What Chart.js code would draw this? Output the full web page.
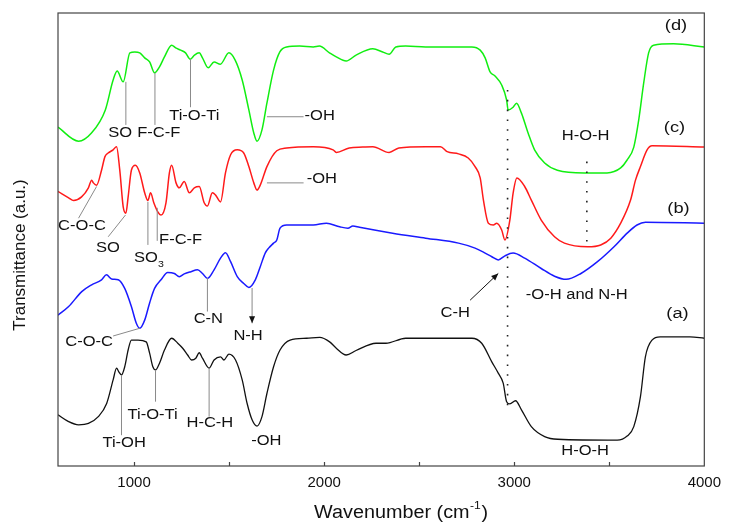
<!DOCTYPE html>
<html><head><meta charset="utf-8">
<script src="https://cdn.jsdelivr.net/npm/chart.js@4/dist/chart.umd.min.js"></script>
<style>html,body{margin:0;padding:0;background:#fff}#wrap{width:729px;height:525px;position:relative}</style>
</head><body><div id="wrap"><canvas id="c" width="729" height="525"></canvas></div>
<script>
// ---- data ----
const tickValues = [1000, 1500, 2000, 2500, 3000, 3500, 4000];
const tickLabels = ['1000', '', '2000', '', '3000', '', '4000'];
const seriesNames = ['(a)', '(b)', '(c)', '(d)'];

// (a) black
const aWavenumber = [600,656,708,760,812,856,890,908,920,934,951,969,986,1021,1064,1082,1099,1113,1134,1160,1198,1230,1256,1282,1303,1325,1343,1360,1395,1421,1455,1473,1499,1534,1569,1595,1621,1647,1673,1699,1734,1768,1821,1908,1977,2029,2064,2116,2168,2273,2325,2429,2621,2777,2829,2882,2916,2942,2960,2977,3007,3038,3090,3160,3229,3542,3594,3629,3664,3690,3725,3768,3925,4000];
const aTransmittance = [11.3,9.8,9.1,9.4,10.9,13.8,19.0,21.6,20.8,20.1,21.9,25.6,27.8,27.8,27.4,24.9,21.9,21.2,22.7,25.6,28.2,27.1,26.0,24.5,23.4,23.8,25.0,23.8,21.6,23.4,24.1,23.4,24.7,23.4,19.0,13.8,10.2,8.8,10.9,16.0,21.9,25.6,27.8,28.2,28.4,27.4,26.0,24.5,25.5,27.1,27.1,28.2,28.2,28.2,27.1,23.0,20.5,18.3,14.2,13.7,14.4,12.4,8.7,6.5,5.9,5.7,6.6,8.7,15.3,24.1,27.8,28.5,28.5,28.2];

// (b) blue
const bWavenumber = [600,656,725,777,829,855,882,917,951,986,1012,1030,1056,1082,1108,1142,1177,1212,1238,1264,1299,1334,1360,1386,1421,1455,1481,1508,1543,1577,1604,1638,1664,1690,1708,1734,1751,1768,1803,1943,2012,2082,2125,2151,2186,2360,2534,2707,2794,2847,2882,2916,2951,2994,3055,3142,3212,3273,3351,3438,3525,3594,3646,3690,4000];
const bTransmittance = [33.3,35.2,38.5,40.0,41.1,42.2,41.3,41.1,39.2,35.2,31.5,30.4,32.2,36.0,39.2,41.1,42.7,42.5,41.8,42.4,42.9,43.3,42.5,41.4,43.3,45.9,47.1,45.1,41.8,40.3,39.4,41.1,44.0,47.0,48.1,49.2,49.9,52.5,53.2,53.2,53.6,52.8,52.5,53.0,52.7,51.4,50.3,49.2,48.1,47.0,46.2,45.5,46.4,47.0,45.9,43.6,41.9,41.2,42.5,45.1,48.4,51.4,53.2,53.8,53.6];

// (c) red
const cWavenumber = [600,656,682,724,760,777,786,803,829,847,864,890,908,925,943,957,969,986,1007,1030,1056,1073,1087,1104,1125,1142,1168,1186,1198,1221,1238,1264,1291,1317,1343,1369,1386,1412,1429,1455,1481,1508,1543,1577,1604,1630,1647,1664,1699,1751,1803,1943,2047,2064,2132,2203,2256,2342,2393,2534,2612,2647,2707,2758,2794,2821,2838,2864,2890,2908,2934,2951,2977,2994,3014,3055,3090,3142,3212,3264,3386,3455,3508,3560,3612,3638,3664,3699,3725,4000];
const cTransmittance = [60.6,59.2,58.6,59.4,61.4,63.1,62.5,62.0,65.3,68.3,69.1,69.8,70.5,65.3,57.2,55.8,59.4,65.3,66.4,64.7,60.3,58.6,60.3,58.1,56.1,55.4,58.1,64.7,66.4,62.5,61.4,62.8,60.3,61.4,61.7,58.1,57.4,60.3,59.8,58.3,64.7,68.7,69.8,69.1,66.1,62.5,60.9,62.0,66.1,69.6,70.2,70.5,69.8,69.2,70.2,70.4,70.5,69.2,70.2,70.5,70.5,69.4,68.9,68.0,66.1,63.6,58.7,53.6,53.2,53.6,52.1,49.9,54.3,60.2,63.6,61.7,58.7,54.3,50.6,49.2,48.4,48.8,50.3,53.6,58.7,63.1,66.1,69.8,70.7,70.4];

// (d) green
const dWavenumber = [600,708,776,849,890,911,943,978,1004,1030,1056,1082,1108,1134,1160,1198,1219,1245,1271,1296,1318,1343,1360,1390,1421,1454,1499,1532,1569,1604,1630,1647,1673,1699,1734,1767,1803,1871,1943,1975,2028,2064,2116,2168,2256,2308,2342,2377,2429,2534,2706,2777,2821,2847,2873,2899,2934,2960,2968,2994,3012,3038,3073,3107,3160,3227,3368,3488,3560,3593,3629,3655,3681,3707,3733,3838,4000];
const dTransmittance = [74.8,71.7,73.5,78.6,85.2,87.2,84.8,91.2,91.4,91.2,90.1,89.2,86.8,88.1,90.3,92.9,92.3,91.8,91.2,89.8,90.7,91.2,90.1,87.9,89.2,88.7,91.2,89.6,85.2,78.6,73.5,71.7,74.2,80.1,87.4,91.4,92.5,92.7,92.5,92.7,91.2,90.3,89.4,90.7,92.1,91.4,90.9,92.5,92.7,92.5,92.5,92.5,91.8,90.1,87.0,86.1,84.1,80.8,78.6,79.2,80.1,77.9,73.5,69.8,66.9,65.3,64.7,64.7,65.8,67.5,70.4,76.4,84.5,91.2,92.9,93.2,92.5];

// ---- annotations (in data units: wavenumber, transmittance) ----
const annotationTexts = [
  {t:'SO', x:927, y:73.5}, {t:'F-C-F', x:1130, y:73.4}, {t:'Ti-O-Ti', x:1317, y:77.3},
  {t:'-OH', x:1897, y:77.3, align:'left'},
  {t:'-OH', x:1908, y:63.3, align:'left'}, {t:'C-O-C', x:726, y:53.0}, {t:'SO', x:863, y:48.1},
  {t:'SO', x:1063, y:45.8, sub:'3'}, {t:'F-C-F', x:1245, y:49.9},
  {t:'C-N', x:1391, y:32.4}, {t:'N-H', x:1600, y:28.7}, {t:'C-O-C', x:764, y:27.4},
  {t:'Ti-O-Ti', x:1098, y:11.3}, {t:'Ti-OH', x:948, y:5.1}, {t:'H-C-H', x:1399, y:9.4}, {t:'-OH', x:1696, y:5.5},
  {t:'H-O-H', x:3376, y:72.8}, {t:'-O-H and N-H', x:3329, y:37.7}, {t:'C-H', x:2690, y:33.7}, {t:'H-O-H', x:3373, y:3.2}
];
const seriesTagPos = [{x:3859, y:33.6}, {x:3864, y:56.7}, {x:3843, y:74.7}, {x:3851, y:97.1}];
const leaderLines = [
  [957,84.8,957,75.3],[1110,86.8,1110,75.3],[1297,89.8,1297,79.2],[1699,77.1,1892,77.1],
  [1699,62.5,1892,62.5],[708,54.7,803,61.7],[864,50.6,955,55.4],[1073,58.3,1073,48.8],[1122,57.0,1122,49.7],
  [1386,41.5,1386,34.1],[890,28.7,1030,30.4],
  [1113,21.2,1113,14.2],[934,20.1,934,6.8],[1395,21.6,1395,10.9]
];
const arrows = [
  {x1:1621, y1:39.3, x2:1621, y2:31.5, line:'#888'},
  {x1:2768, y1:36.6, x2:2916, y2:42.5, line:'#111'}
];
const dottedLines = [[2965,83.0,2965,12.8],[3382,67.2,3382,49.5]];

const FONT = '"Liberation Sans", Arial, Helvetica, sans-serif';

function pts(xs, ys){ return xs.map((x,i)=>({x:x, y:ys[i]})); }

const overlay = {
  id:'overlay',
  afterDatasetsDraw(chart){
    const ctx = chart.ctx, xs = chart.scales.x, ys = chart.scales.y, a = chart.chartArea;
    const X = v=>xs.getPixelForValue(v), Y = v=>ys.getPixelForValue(v);
    ctx.save();
    // frame
    ctx.strokeStyle = '#444'; ctx.lineWidth = 1.2;
    ctx.strokeRect(a.left, a.top, a.right-a.left, a.bottom-a.top);
    // inward tick marks
    ctx.beginPath();
    xs.ticks.forEach(t=>{ const p = Math.round(X(t.value))+0.5; if (p < a.right-1){ ctx.moveTo(p, a.bottom); ctx.lineTo(p, a.bottom-4); }});
    ctx.stroke();
    // leader lines
    ctx.strokeStyle = '#8a8a8a'; ctx.lineWidth = 1;
    leaderLines.forEach(l=>{ ctx.beginPath(); ctx.moveTo(X(l[0]),Y(l[1])); ctx.lineTo(X(l[2]),Y(l[3])); ctx.stroke(); });
    // arrows
    arrows.forEach(ar=>{
      const x1=X(ar.x1), y1=Y(ar.y1), x2=X(ar.x2), y2=Y(ar.y2);
      ctx.strokeStyle = ar.line; ctx.lineWidth = 1;
      ctx.beginPath(); ctx.moveTo(x1,y1); ctx.lineTo(x2,y2); ctx.stroke();
      const ang = Math.atan2(y2-y1, x2-x1), L = 7, W = 3;
      ctx.fillStyle = '#111';
      ctx.beginPath(); ctx.moveTo(x2,y2);
      ctx.lineTo(x2 - L*Math.cos(ang) + W*Math.sin(ang), y2 - L*Math.sin(ang) - W*Math.cos(ang));
      ctx.lineTo(x2 - L*Math.cos(ang) - W*Math.sin(ang), y2 - L*Math.sin(ang) + W*Math.cos(ang));
      ctx.closePath(); ctx.fill();
    });
    // dotted lines
    ctx.strokeStyle = '#222'; ctx.lineWidth = 1.6; ctx.setLineDash([1.6, 8.2]);
    dottedLines.forEach(l=>{ ctx.beginPath(); ctx.moveTo(X(l[0]),Y(l[1])); ctx.lineTo(X(l[2]),Y(l[3])); ctx.stroke(); });
    ctx.setLineDash([]);
    // texts
    const sx = 1.18;
    ctx.fillStyle = '#111'; ctx.textBaseline = 'middle';
    function txt(s, x, y, size, align){
      ctx.save(); ctx.translate(x, y); ctx.scale(sx, 1);
      ctx.font = size + 'px ' + FONT; ctx.textAlign = align || 'center';
      ctx.fillText(s, 0, 0); ctx.restore();
    }
    annotationTexts.forEach(o=>{
      const x = X(o.x), y = Y(o.y);
      txt(o.t, x, y, 14, o.align);
      if (o.sub){
        ctx.font = '14px ' + FONT;
        const w = ctx.measureText(o.t).width * sx;
        txt(o.sub, x + w/2 + 3, y + 6, 9, 'center');
      }
    });
    seriesNames.forEach((n,i)=> txt(n, X(seriesTagPos[i].x), Y(seriesTagPos[i].y), 15.5));
    // axis titles
    // x title with superscript
    ctx.save();
    const sxt = 1.1;
    ctx.font = '18px ' + FONT;
    const p1 = 'Wavenumber (cm', p2 = ')';
    const w1 = ctx.measureText(p1).width, w3 = ctx.measureText(p2).width;
    ctx.font = '11px ' + FONT; const w2 = ctx.measureText('-1').width;
    const total = (w1 + w2 + w3 + 1) * sxt;
    const cx = 401, cy = 513;
    ctx.translate(cx - total/2, cy); ctx.scale(sxt, 1);
    ctx.textAlign = 'left'; ctx.textBaseline = 'middle'; ctx.fillStyle = '#111';
    ctx.font = '18px ' + FONT; ctx.fillText(p1, 0, 0);
    ctx.font = '11px ' + FONT; ctx.fillText('-1', w1 + 0.5, -7);
    ctx.font = '18px ' + FONT; ctx.fillText(p2, w1 + w2 + 1, 0);
    ctx.restore();
    // y title
    ctx.save();
    ctx.translate(20, 255); ctx.rotate(-Math.PI/2);
    ctx.font = '17px ' + FONT; ctx.textAlign = 'center'; ctx.textBaseline = 'middle'; ctx.fillStyle = '#111';
    ctx.fillText('Transmittance (a.u.)', 0, 0);
    ctx.restore();
    ctx.restore();
  }
};

const common = {borderWidth:1.5, pointRadius:0, cubicInterpolationMode:'monotone', fill:false};
new Chart(document.getElementById('c'), {
  type:'line',
  data:{ datasets:[
    Object.assign({label:seriesNames[0], data:pts(aWavenumber,aTransmittance), borderColor:'#111111', borderWidth:1.3}, common, {borderWidth:1.3}),
    Object.assign({label:seriesNames[1], data:pts(bWavenumber,bTransmittance), borderColor:'#1a1aff'}, common),
    Object.assign({label:seriesNames[2], data:pts(cWavenumber,cTransmittance), borderColor:'#ff1a1a'}, common),
    Object.assign({label:seriesNames[3], data:pts(dWavenumber,dTransmittance), borderColor:'#11ee11'}, common)
  ]},
  options:{
    responsive:false, animation:false, devicePixelRatio:1,
    layout:{padding:{left:58, right:19, top:13, bottom:0}},
    plugins:{legend:{display:false}, tooltip:{enabled:false}},
    scales:{
      x:{type:'linear', min:600, max:4000,
        afterBuildTicks(s){ s.ticks = tickValues.map(v=>({value:v})); },
        afterFit(s){ s.height = 59; },
        grid:{display:false, drawTicks:false}, border:{display:false},
        ticks:{autoSkip:false, maxRotation:0, padding:8, color:'#111',
          font:{family:FONT, size:15},
          callback(v){ const i = tickValues.indexOf(v); return i >= 0 ? tickLabels[i] : ''; }}
      },
      y:{type:'linear', min:0, max:100, display:false}
    }
  },
  plugins:[overlay]
});
</script></body></html>
